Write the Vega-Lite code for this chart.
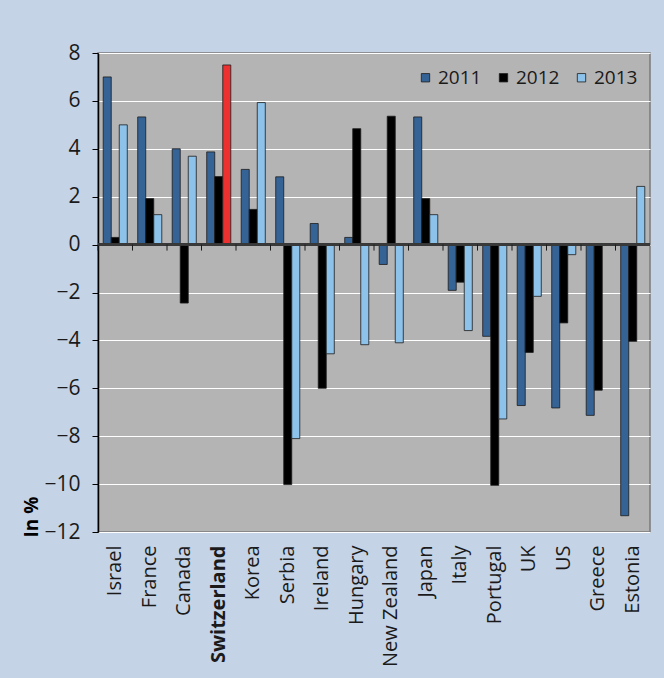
{
  "$schema": "https://vega.github.io/schema/vega-lite/v6.json",
  "width": 552,
  "height": 479,
  "autosize": {"type": "none"},
  "padding": {"left": 98, "top": 53, "right": 14, "bottom": 146},
  "background": "#C5D3E6",
  "config": {
    "font": "Open Sans",
    "view": {"fill": "#B4B4B4", "stroke": "#7A7A7A", "strokeWidth": 1.5},
    "axis": {"labelFont": "Open Sans", "labelColor": "#1A1A1A", "titleColor": "#000000"}
  },
  "data": {
    "values": [
      {"country": "Israel", "year": "2011", "value": 7.0},
      {"country": "Israel", "year": "2012", "value": 0.3},
      {"country": "Israel", "year": "2013", "value": 5.0},
      {"country": "France", "year": "2011", "value": 5.33},
      {"country": "France", "year": "2012", "value": 1.92},
      {"country": "France", "year": "2013", "value": 1.25},
      {"country": "Canada", "year": "2011", "value": 4.0},
      {"country": "Canada", "year": "2012", "value": -2.44},
      {"country": "Canada", "year": "2013", "value": 3.69},
      {"country": "Switzerland", "year": "2011", "value": 3.87},
      {"country": "Switzerland", "year": "2012", "value": 2.84},
      {"country": "Switzerland", "year": "2013", "value": 7.5},
      {"country": "Korea", "year": "2011", "value": 3.14},
      {"country": "Korea", "year": "2012", "value": 1.47},
      {"country": "Korea", "year": "2013", "value": 5.93},
      {"country": "Serbia", "year": "2011", "value": 2.83},
      {"country": "Serbia", "year": "2012", "value": -10.02},
      {"country": "Serbia", "year": "2013", "value": -8.1},
      {"country": "Ireland", "year": "2011", "value": 0.88},
      {"country": "Ireland", "year": "2012", "value": -6.0},
      {"country": "Ireland", "year": "2013", "value": -4.56},
      {"country": "Hungary", "year": "2011", "value": 0.3},
      {"country": "Hungary", "year": "2012", "value": 4.84},
      {"country": "Hungary", "year": "2013", "value": -4.18},
      {"country": "New Zealand", "year": "2011", "value": -0.83},
      {"country": "New Zealand", "year": "2012", "value": 5.36},
      {"country": "New Zealand", "year": "2013", "value": -4.1},
      {"country": "Japan", "year": "2011", "value": 5.33},
      {"country": "Japan", "year": "2012", "value": 1.92},
      {"country": "Japan", "year": "2013", "value": 1.25},
      {"country": "Italy", "year": "2011", "value": -1.91},
      {"country": "Italy", "year": "2012", "value": -1.57},
      {"country": "Italy", "year": "2013", "value": -3.59},
      {"country": "Portugal", "year": "2011", "value": -3.83},
      {"country": "Portugal", "year": "2012", "value": -10.05},
      {"country": "Portugal", "year": "2013", "value": -7.28},
      {"country": "UK", "year": "2011", "value": -6.72},
      {"country": "UK", "year": "2012", "value": -4.5},
      {"country": "UK", "year": "2013", "value": -2.16},
      {"country": "US", "year": "2011", "value": -6.82},
      {"country": "US", "year": "2012", "value": -3.27},
      {"country": "US", "year": "2013", "value": -0.42},
      {"country": "Greece", "year": "2011", "value": -7.13},
      {"country": "Greece", "year": "2012", "value": -6.08},
      {"country": "Estonia", "year": "2011", "value": -11.32},
      {"country": "Estonia", "year": "2012", "value": -4.04},
      {"country": "Estonia", "year": "2013", "value": 2.43}
    ]
  },
  "encoding": {
    "x": {
      "field": "country",
      "type": "nominal",
      "sort": null,
      "scale": {"paddingInner": 0, "paddingOuter": 0},
      "axis": {
        "title": null,
        "domain": false,
        "ticks": false,
        "labelAngle": -90,
        "labelAlign": "right",
        "labelBaseline": "middle",
        "labelPadding": 13,
        "labelFontSize": 20,
        "labelFontWeight": {"condition": {"test": "datum.value === 'Switzerland'", "value": "bold"}, "value": "normal"}
      }
    }
  },
  "layer": [
    {
      "mark": {"type": "bar", "stroke": "#1C1C1C", "strokeWidth": 0.8},
      "encoding": {
        "xOffset": {
          "field": "year",
          "type": "nominal",
          "scale": {"paddingInner": 0, "paddingOuter": 0.65}
        },
        "y": {
          "field": "value",
          "type": "quantitative",
          "scale": {"domain": [-12, 8], "nice": false, "zero": true},
          "axis": {
            "title": "In %",
            "titleFontSize": 19,
            "titleFontWeight": "bold",
            "titleAngle": -90,
            "titleAlign": "left",
            "titleBaseline": "alphabetic",
            "titleX": -61,
            "titleY": 484,
            "values": [-12, -10, -8, -6, -4, -2, 0, 2, 4, 6, 8],
            "labelFontSize": 21,
            "labelPadding": 12,
            "tickSize": 6,
            "tickColor": "#000000",
            "domainColor": "#000000",
            "domainWidth": 1.5,
            "grid": true,
            "gridColor": "#FFFFFF",
            "gridWidth": 1.2
          }
        },
        "color": {
          "condition": {"test": "datum.country === 'Switzerland' && datum.year === '2013'", "value": "#EC3130"},
          "field": "year",
          "type": "nominal",
          "scale": {"domain": ["2011", "2012", "2013"], "range": ["#366395", "#000000", "#8DC3EA"]},
          "legend": {
            "title": null,
            "orient": "none",
            "legendX": 318,
            "legendY": 15,
            "direction": "horizontal",
            "symbolType": "square",
            "symbolSize": 70,
            "symbolStrokeColor": "#1C1C1C",
            "symbolStrokeWidth": 0.8,
            "symbolOpacity": 1,
            "labelFontSize": 19,
            "labelColor": "#1A1A1A",
            "labelOffset": 3,
            "columnPadding": 12
          }
        }
      }
    },
    {
      "mark": {"type": "rule", "color": "#3A3A3A", "strokeWidth": 1.5},
      "encoding": {"y": {"datum": 0}, "x": null}
    },
    {
      "transform": [{"filter": "datum.year === '2011'"}],
      "mark": {"type": "rule", "color": "#1A1A1A", "strokeWidth": 1},
      "encoding": {
        "x": {"field": "country", "type": "nominal", "sort": null, "bandPosition": 0},
        "y": {"datum": 0},
        "y2": {"datum": -0.25}
      }
    }
  ]
}
